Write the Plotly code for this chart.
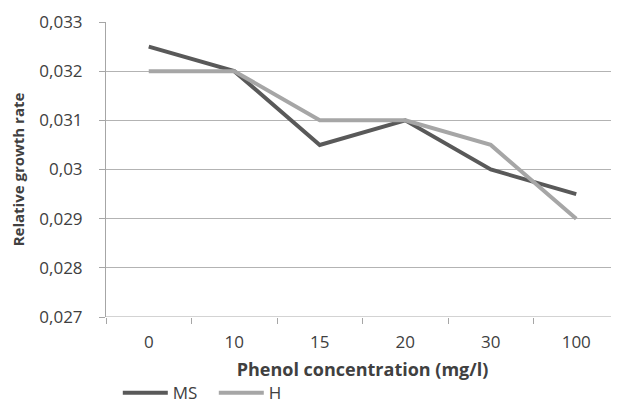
import plotly.graph_objects as go

categories = ["0", "10", "15", "20", "30", "100"]
ms_values = [0.0325, 0.032, 0.0305, 0.031, 0.030, 0.0295]
h_values = [0.032, 0.032, 0.031, 0.031, 0.0305, 0.029]
y_tickvals = [0.027, 0.028, 0.029, 0.030, 0.031, 0.032, 0.033]
y_ticktext = ["0,027", "0,028", "0,029", "0,03", "0,031", "0,032", "0,033"]

font_family = "Open Sans, Liberation Sans, Arial, sans-serif"
txt = "#404040"

fig = go.Figure()
fig.add_trace(go.Scatter(x=categories, y=ms_values, mode="lines", name="MS",
                         line=dict(color="#595959", width=4)))
fig.add_trace(go.Scatter(x=categories, y=h_values, mode="lines", name="H",
                         line=dict(color="#a6a6a6", width=4)))

fig.update_layout(
    width=611, height=395,
    margin=dict(l=98, r=0, t=14, b=86, autoexpand=False),
    paper_bgcolor="white", plot_bgcolor="white",
    font=dict(family=font_family, size=17, color=txt),
    showlegend=True,
    legend=dict(orientation="h", x=0.023, y=-0.258, xanchor="left", yanchor="middle",
                font=dict(size=17, color=txt), tracegroupgap=0, itemwidth=45,
                entrywidth=36),
    xaxis=dict(
        type="category", range=[-0.5, 5.5], automargin=False,
        showgrid=False, showline=False, zeroline=False,
        ticks="outside", tickson="boundaries", ticklen=6, tickcolor="#a6a6a6",
        tickfont=dict(size=17, color=txt), ticklabelstandoff=13,
        title=dict(text="<b>Phenol concentration (mg/l)</b>", font=dict(size=18, color=txt), standoff=11),
    ),
    yaxis=dict(
        range=[0.027, 0.033], tickvals=y_tickvals, ticktext=y_ticktext, automargin=False,
        showgrid=True, gridcolor="#b3b3b3", gridwidth=1,
        showline=True, linecolor="#a6a6a6", linewidth=1, zeroline=False,
        ticks="outside", ticklen=6, tickcolor="#a6a6a6",
        tickfont=dict(size=17, color=txt), ticklabelstandoff=13,
        title=dict(text="<b>Relative growth rate</b>", font=dict(size=15, color=txt), standoff=11),
    ),
)
fig.add_shape(type="line", xref="paper", yref="y", x0=0, x1=1, y0=0.027, y1=0.027,
              line=dict(color="#a6a6a6", width=1))

fig.write_html("out.html")
